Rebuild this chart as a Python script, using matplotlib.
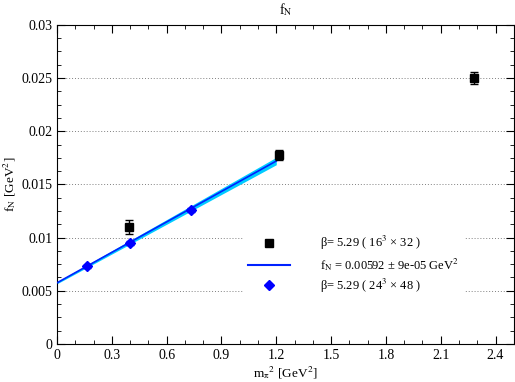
import numpy as np
import matplotlib
matplotlib.use("Agg")
import matplotlib.pyplot as plt
from matplotlib.lines import Line2D

plt.rcParams['font.family'] = ['Liberation Serif', 'DejaVu Serif']
plt.rcParams['mathtext.fontset'] = 'stix'

# beta=5.29, 16^3 x 32
mpi2_16 = [0.394, 1.215, 2.282]
fN_16 = [0.0110, 0.0178, 0.0250]
err_16 = [0.00067, 0.00048, 0.00058]

# beta=5.29, 24^3 x 48
mpi2_24 = [0.166, 0.398, 0.733]
fN_24 = [0.00731, 0.00953, 0.01259]
err_24 = [0.00015, 0.00018, 0.00022]

# linear fit with error band
fit_x = [0.0, 1.2]
fit_y = [0.00575, 0.01720]
fit_err = [0.00009, 0.00035]

fig = plt.figure(figsize=(5.15, 3.82), dpi=100)
ax = fig.add_axes([0.1107, 0.0995, 0.887, 0.8355])

xx = np.linspace(fit_x[0], fit_x[1], 50)
yy = np.interp(xx, fit_x, fit_y)
ee = np.interp(xx, fit_x, fit_err)
ax.fill_between(xx, yy - ee, yy + ee, color='#00ccff', lw=0, zorder=2)
ax.plot(xx, yy, color='#0022ff', lw=1.2, zorder=3)

ax.errorbar(mpi2_16, fN_16, yerr=err_16, fmt='s', color='black', ms=5.5,
            capsize=3, elinewidth=1, capthick=1, zorder=4)
ax.errorbar(mpi2_24, fN_24, yerr=err_24, fmt='D', color='#0000ff', ms=5,
            capsize=3, elinewidth=1, capthick=1, zorder=4)

ax.set_xlim(0, 2.5)
ax.set_ylim(0, 0.03)
ax.set_xticks(np.arange(0, 2.41, 0.3))
ax.set_xticklabels(['0', '0.3', '0.6', '0.9', '1.2', '1.5', '1.8', '2.1', '2.4'])
ax.set_xticks(np.arange(0, 2.5, 0.1), minor=True)
ax.set_yticks([0, 0.005, 0.01, 0.015, 0.02, 0.025, 0.03])
ax.set_yticklabels(['0', '0.005', '0.01', '0.015', '0.02', '0.025', '0.03'])
ax.set_yticks(np.arange(0, 0.0301, 0.00125), minor=True)
ax.tick_params(which='both', direction='in', top=True, right=True, labelsize=10)
ax.tick_params(which='major', length=6)
ax.tick_params(which='minor', length=3)

for yv in [0.005, 0.01, 0.015, 0.02, 0.025]:
    ax.axhline(yv, color='gray', lw=0.7, ls=(0, (1, 2)), zorder=1)

ax.set_title(r'f$_\mathrm{N}$', fontsize=10, pad=8)
ax.set_xlabel(r'm$_\mathrm{π}$$^2$ [GeV$^2$]', fontsize=9.5, labelpad=2)
ax.set_ylabel(r'f$_\mathrm{N}$ [GeV$^2$]', fontsize=9.5, labelpad=2)

handles = [
    Line2D([], [], ls='none', marker='s', color='black', ms=5.5),
    Line2D([], [], color='#0022ff', lw=1.5),
    Line2D([], [], ls='none', marker='D', color='#0000ff', ms=5),
]
labels = [
    'β= 5.29 ( 16$^3$ × 32 )',
    'f$_\\mathrm{N}$ = 0.00592 ± 9e-05 GeV$^2$',
    'β= 5.29 ( 24$^3$ × 48 )',
]
leg = fig.legend(handles, labels, loc='upper left', bbox_to_anchor=(0.462, 0.413),
                 frameon=True, fontsize=9, handlelength=3.4, handletextpad=2.4,
                 borderpad=0.3, labelspacing=0.3)
leg.get_frame().set_edgecolor('white')
leg.get_frame().set_facecolor('white')
leg.get_frame().set_alpha(1)
leg.get_frame().set_boxstyle('square', pad=0)

fig.savefig('out.png', dpi=100)
